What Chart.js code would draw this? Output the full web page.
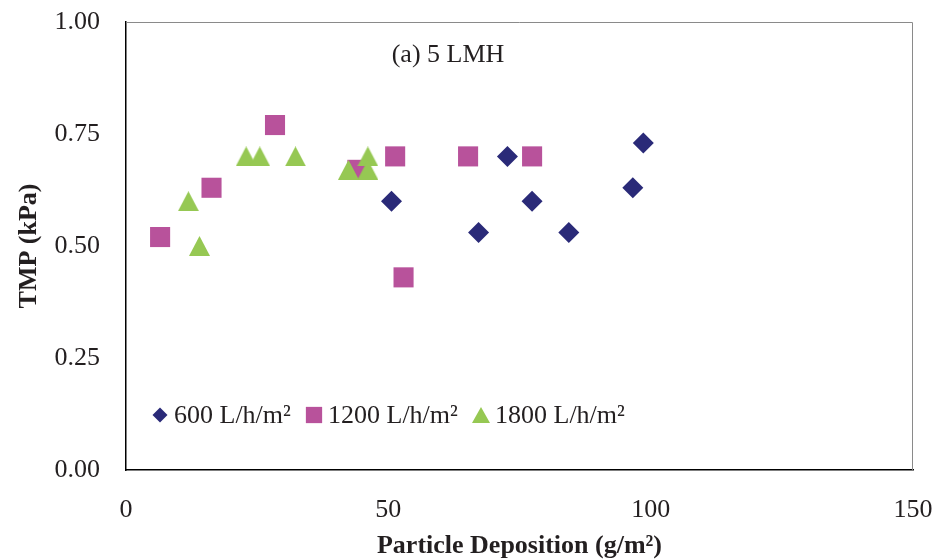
<!DOCTYPE html>
<html>
<head>
<meta charset="utf-8">
<script src="https://cdn.jsdelivr.net/npm/chart.js@4/dist/chart.umd.min.js"></script>
<style>
	body { margin: 0; background: #fff; }
	#wrap { width: 935px; height: 560px; }
</style>
</head>
<body>
<div id="wrap"><canvas id="chart" width="935" height="560"></canvas></div>
<script>
// particle deposition (g/m2) vs TMP (kPa) at 5 LMH
const deposition600 = [50.6, 67.2, 72.7, 77.4, 84.4, 96.6, 98.6];
const tmp600 = [0.60, 0.53, 0.70, 0.60, 0.53, 0.63, 0.73];

const deposition1200 = [6.5, 16.3, 28.4, 44.1, 51.3, 52.9, 65.2, 77.4];
const tmp1200 = [0.52, 0.63, 0.77, 0.67, 0.70, 0.43, 0.70, 0.70];

const deposition1800 = [11.9, 14.0, 22.9, 25.5, 32.3, 42.4, 46.1, 46.1];
const tmp1800 = [0.60, 0.50, 0.70, 0.70, 0.70, 0.67, 0.70, 0.67];

const seriesLabels = ["600 L/h/m²", "1200 L/h/m²", "1800 L/h/m²"];
const panelTitle = "(a) 5 LMH";

const xTitle = "Particle Deposition (g/m²)";
const yTitle = "TMP (kPa)";

const serif = "'Liberation Serif', 'Times New Roman', serif";
const navy = "#2a2a78";
const pink = "#b8529b";
const green = "#96c853";

function toPoints(xs, ys) {
	return xs.map((x, i) => ({ x: x, y: ys[i] }));
}

// triangle marker centred on its bounding box
function triangleImage(w, h, color) {
	const c = document.createElement("canvas");
	c.width = w;
	c.height = h;
	const g = c.getContext("2d");
	g.fillStyle = color;
	g.beginPath();
	g.moveTo(w / 2, 0);
	g.lineTo(w, h);
	g.lineTo(0, h);
	g.closePath();
	g.fill();
	return c;
}

const triMarker = triangleImage(21, 20, green);
const triLegend = triangleImage(18, 16, green);

// gray top/right frame, panel title and the inline legend
const extras = {
	id: "extras",
	beforeDatasetsDraw(chart) {
		const { ctx, chartArea: a } = chart;
		ctx.save();
		ctx.strokeStyle = "#8a8a8a";
		ctx.lineWidth = 1;
		ctx.beginPath();
		ctx.moveTo(a.left, a.top + 0.5);
		ctx.lineTo(a.right - 0.5, a.top + 0.5);
		ctx.lineTo(a.right - 0.5, a.bottom);
		ctx.stroke();
		ctx.restore();
	},
	afterDraw(chart) {
		const { ctx } = chart;
		ctx.save();
		ctx.fillStyle = "#231f20";
		ctx.font = "26px " + serif;
		ctx.textAlign = "center";
		ctx.textBaseline = "middle";
		ctx.fillText(panelTitle, 448, 55);

		const markerX = [160, 314, 481];
		const styles = ["rectRot", "rect", triLegend];
		const sizes = [7.5, 11.5, 9];
		ctx.textAlign = "left";
		chart.data.datasets.forEach((ds, i) => {
			ctx.fillStyle = ds.backgroundColor;
			Chart.helpers.drawPoint(ctx, {
				pointStyle: styles[i],
				rotation: 0,
				radius: sizes[i],
				borderWidth: 0,
			}, markerX[i], 415);
			ctx.fillStyle = "#231f20";
			ctx.fillText(ds.label, markerX[i] + 14, 416);
		});
		ctx.restore();
	},
};

new Chart(document.querySelector("#chart"), {
	type: "scatter",
	data: {
		datasets: [
			{
				label: seriesLabels[0],
				data: toPoints(deposition600, tmp600),
				pointStyle: "rectRot",
				pointRadius: 10.5,
				backgroundColor: navy,
				borderColor: navy,
				borderWidth: 0,
				order: 2,
			},
			{
				label: seriesLabels[1],
				data: toPoints(deposition1200, tmp1200),
				pointStyle: "rect",
				pointRadius: 14.2,
				backgroundColor: pink,
				borderColor: pink,
				borderWidth: 0,
				order: 1,
			},
			{
				label: seriesLabels[2],
				data: toPoints(deposition1800, tmp1800),
				pointStyle: triMarker,
				pointRadius: 11,
				backgroundColor: green,
				borderColor: green,
				borderWidth: 0,
				order: 0,
			},
		],
	},
	options: {
		responsive: false,
		animation: false,
		layout: { padding: { left: 0, right: 22, top: 22, bottom: 0 } },
		plugins: {
			legend: { display: false },
			tooltip: { enabled: false },
		},
		scales: {
			x: {
				type: "linear",
				min: 0,
				max: 150,
				ticks: {
					stepSize: 50,
					padding: 17,
					color: "#231f20",
					font: { family: serif, size: 26 },
				},
				grid: { display: false },
				border: { display: true, color: "#000", width: 1.5 },
				title: {
					display: true,
					text: xTitle,
					color: "#231f20",
					font: { family: serif, size: 26, weight: "bold" },
					padding: { top: 0, bottom: -2 },
				},
				afterFit(scale) {
					scale.height = 90;
					scale.paddingLeft = 0;
					scale.paddingRight = 0;
				},
			},
			y: {
				min: 0,
				max: 1,
				ticks: {
					stepSize: 0.25,
					padding: 18,
					color: "#231f20",
					font: { family: serif, size: 26 },
					callback: (v) => v.toFixed(2),
				},
				grid: { display: false },
				border: { display: true, color: "#000", width: 1.5 },
				title: {
					display: true,
					text: yTitle,
					color: "#231f20",
					font: { family: serif, size: 26, weight: "bold" },
					padding: { top: 14, bottom: 0 },
				},
				afterFit(scale) {
					scale.width = 126;
					scale.paddingTop = 0;
					scale.paddingBottom = 0;
				},
			},
		},
	},
	plugins: [extras],
});
</script>
</body>
</html>
